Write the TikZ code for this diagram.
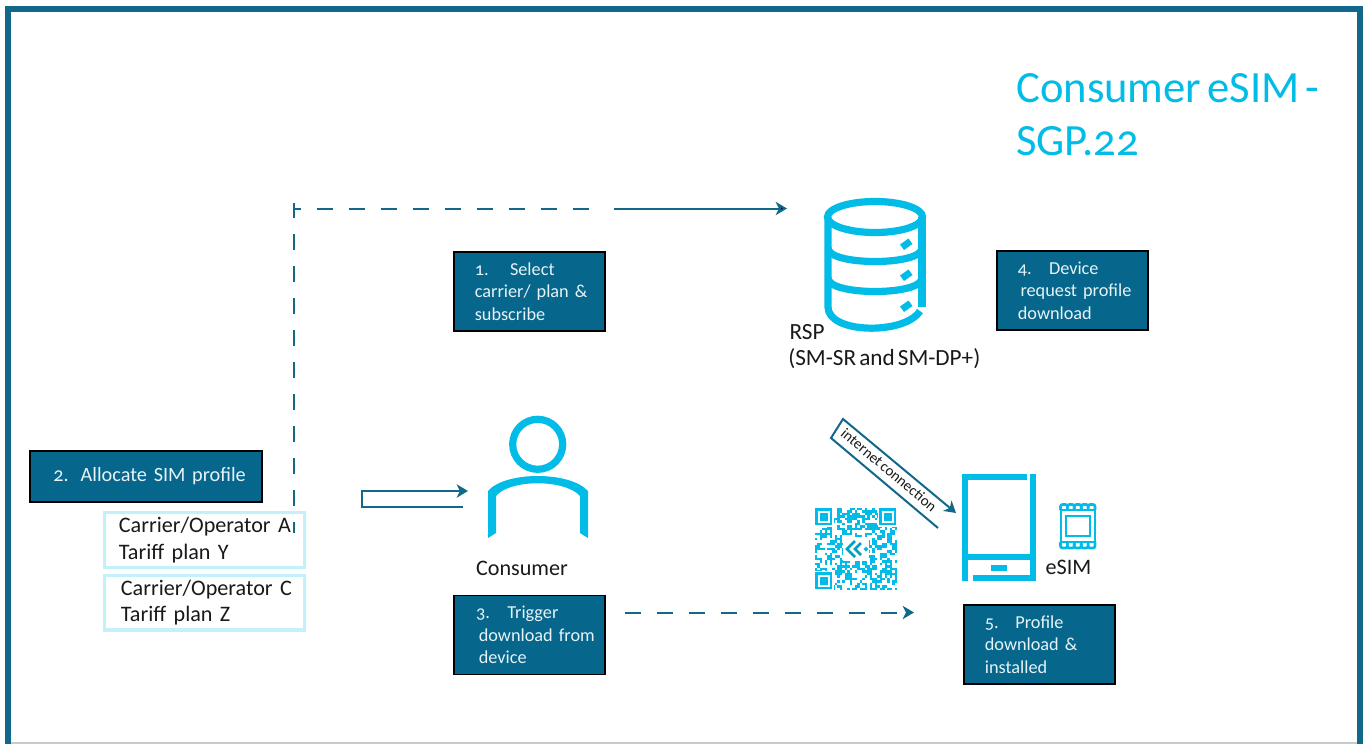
\documentclass[tikz,border=0pt]{standalone}
\usepackage{fontspec}
\setmainfont[Numbers=OldStyle,WordSpace=0.6]{Carlito}
\usepackage{tikz}
\usetikzlibrary{arrows.meta,positioning}
\definecolor{tealline}{HTML}{12688A}
\definecolor{tealbox}{HTML}{06668C}
\definecolor{iconcyan}{HTML}{00BCE6}
\definecolor{palecyan}{HTML}{C4F0FA}
\definecolor{boxtext}{HTML}{E6F3F7}

\begin{document}
\begin{tikzpicture}[x=0.75pt,y=-0.75pt,>={Stealth[length=8.5pt,width=10pt,inset=2.5pt]},on grid]
\tikzstyle{stepbox} = [rectangle,draw=black,line width=1.1pt,fill=tealbox,text=boxtext,align=left,inner xsep=0pt,font=\fontsize{13.7}{17}\selectfont]
\tikzstyle{planbox} = [rectangle,draw=palecyan,line width=2.5pt,text=black!90,align=left,minimum width=150pt,minimum height=41pt,text width=128pt,font=\fontsize{16.6}{20}\selectfont]
\tikzstyle{caption} = [text=black!90,align=left,inner sep=0pt,font=\fontsize{16.6}{20}\selectfont]
\tikzstyle{icon} = [draw=iconcyan,line width=5.4pt]
\tikzstyle{iconfill} = [fill=iconcyan]
\tikzstyle{flow} = [draw=tealline,line width=1.5pt]
\tikzstyle{flowdash} = [flow,dash pattern=on 12pt off 12pt]
    \useasboundingbox (0,0) rectangle (1365,744);

    % frame
    \draw[draw=black!20!palecyan!40!gray!50,line width=1pt] (10,743) -- (1357,743);
    \draw[draw=tealline,line width=4.5pt] (7.5,744) -- (7.5,9) -- (1359.5,9) -- (1359.5,744);

    \node[inner sep=0pt,anchor=north west,text=iconcyan,align=left,font=\fontsize{33.5}{40}\selectfont] (title) at (1016,73) {Consumer eSIM -\\SGP.22};

    % steps
    \node[stepbox,minimum width=113pt,minimum height=59pt,text width=82pt] (step1) at (529.5,291.5) {1.\hspace{16pt}Select\\\mbox{carrier/ plan \&}\\subscribe};
    \node[stepbox,minimum width=113pt,minimum height=59pt,text width=82pt] (step4) [above right=0.75pt and 407.25pt of step1] {4.\hspace{13pt}Device\\\mbox{\hspace*{2pt}request profile}\\download};
    \node[stepbox,minimum width=113pt,minimum height=59pt,text width=82pt] (step3) [below=257.6pt of step1] {\hspace*{1pt}3.\hspace{13pt}Trigger\\\mbox{\hspace*{3pt}download from}\\\hspace*{3pt}device};
    \node[stepbox,minimum width=113pt,minimum height=59pt,text width=82pt] (step5) [below right=7.1pt and 382.5pt of step3] {5.\hspace{12.5pt}Profile\\\mbox{download \&}\\installed};
    \node[stepbox,minimum width=174pt,minimum height=38pt,text width=139pt,font=\fontsize{15.2}{17}\selectfont] (step2) at (146,476.5) {\mbox{2.\hspace{9pt}Allocate SIM profile}};

    % plans
    \node[planbox] (planA) [below right=47.6pt and 43.7pt of step2] {\mbox{Carrier/Operator A}\\Tariff plan Y};
    \node[planbox] (planC) [below=46.9pt of planA] {\mbox{\hspace*{1.5pt}Carrier/Operator C}\\\hspace*{1.5pt}Tariff plan Z};

    % database
    \draw[icon] (875,217) ellipse [x radius=47.5,y radius=15.5];
    \draw[icon] (828,217) -- (828,307) .. controls (828,334) and (905,335) .. (920,311);
    \draw[icon] (922,217) -- (922,307);
    \foreach \y in {248,278} {
      \draw[icon] (828,\y) .. controls (828,\y+18) and (922,\y+18) .. (922,\y);
    }
    \foreach \y in {244,275,306} {
      \fill[iconfill] (906,\y) ++(-6,0.5) -- ++(8.5,-6) -- ++(4,5.5) -- ++(-8.5,6) -- cycle;
    }
    \node[caption,anchor=west,font=\fontsize{17.4}{20}\selectfont] (rsp) at (788,346.5) {\hspace*{1pt}RSP\\(SM-SR and SM-DP+)};

    % consumer
    \draw[icon] (537.7,444.3) circle [radius=25];
    \fill[iconfill] (488,538) -- (488,491) .. controls (505,471) and (570,471) .. (588,491) -- (588,538) -- (580,533) -- (580,496) .. controls (565,479) and (510,479) .. (496,496) -- (496,533) -- cycle;
    \node[caption] (consumer) at (522,568) {Consumer};

    % phone
    \fill[iconfill] (962,474) rectangle (968,581);
    \fill[iconfill] (962,474) rectangle (1027,480);
    \fill[iconfill] (1030,474) rectangle (1036,581);
    \fill[iconfill] (962,554) rectangle (1030,560);
    \fill[iconfill] (973,575) rectangle (1036,581);
    \fill[iconfill] (991,565) rectangle (1007,571);
    \node[caption] (esim) at (1068.5,567) {eSIM};

    % chip
    \draw[draw=iconcyan,line width=2.2pt] (1061,510) rectangle (1095,542);
    \draw[draw=iconcyan,line width=1.8pt] (1066,516) rectangle (1090,536);
    \foreach \x in {1060.5,1067.4,1074.3,1081.2,1088.1} {
      \draw[draw=iconcyan,line width=2pt,rounded corners=1.5pt] (\x,510) -- (\x,504.5) -- (\x+6.9,504.5) -- (\x+6.9,510);
      \draw[draw=iconcyan,line width=2pt,rounded corners=1.5pt] (\x,542) -- (\x,548) -- (\x+6.9,548) -- (\x+6.9,542);
    }

    % qr code
    \pgfmathsetseed{23}
    \foreach \i in {0,...,32} {
      \foreach \j in {0,...,32} {
        \pgfmathrandominteger{\qrbit}{0}{1}
        \ifnum\qrbit=1
          \fill[iconfill] (815+2.485*\i,508+2.485*\j) rectangle +(2.485,2.485);
        \fi
      }
    }
    \foreach \cx/\cy in {815/508,879/508,815/572} {
      \fill[white] (\cx-1,\cy-1) rectangle +(20,20);
      \draw[draw=iconcyan,line width=2pt] (\cx+1.5,\cy+1.5) rectangle +(14.5,14.5);
      \fill[iconfill] (\cx+4.5,\cy+4.5) rectangle +(8.5,8.5);
    }
    \fill[white] (843,537) rectangle (869,561);
    \draw[draw=iconcyan!85!black,line width=2pt,line join=miter] (855,541) -- (847,549) -- (855,557);
    \draw[draw=iconcyan!85!black,line width=2pt,line join=miter] (861,543) -- (855,549) -- (861,555);
    \fill[iconfill] (866,546.5) -- (868.5,549) -- (866,551.5) -- (863.5,549) -- cycle;

    % connectors
    \coordinate (lineStart) at (294,533);
    \coordinate (lineTick) at (294,203);
    \coordinate (lineCorner) at (294,208.5);
    \coordinate (lineDash) at (597,208.5);
    \coordinate (lineSolid) at (614,208.5);
    \coordinate (rspIn) at (787,208.5);
    \draw[flowdash,dash phase=3.75pt] (lineStart) -- (lineCorner) -- (lineDash);
    \draw[flow] (lineTick) -- (lineCorner);
    \draw[flow] (lineSolid) edge [->] (rspIn);

    \coordinate (userTail) at (463,507);
    \coordinate (userBendA) at (361.5,507);
    \coordinate (userBendB) at (361.5,491);
    \coordinate (userHead) at (468,491);
    \draw[flow,->] (userTail) -- (userBendA) -- (userBendB) -- (userHead);

    \coordinate (qrStart) at (625,612.5);
    \coordinate (qrEnd) at (914,612.5);
    \draw[flowdash,->] (qrStart) -- (qrEnd);

    \coordinate (netTail) at (938,528);
    \coordinate (netBendA) at (831,438);
    \coordinate (netBendB) at (843,419);
    \coordinate (netHead) at (956,513);
    \draw[flow,->] (netTail) -- (netBendA) -- (netBendB) -- (netHead);
    \node[inner sep=0pt,rotate=-40,text=black!90,font=\fontsize{11.3}{12}\selectfont] (net) at (889,470) {internet connection};

\end{tikzpicture}
\end{document}
